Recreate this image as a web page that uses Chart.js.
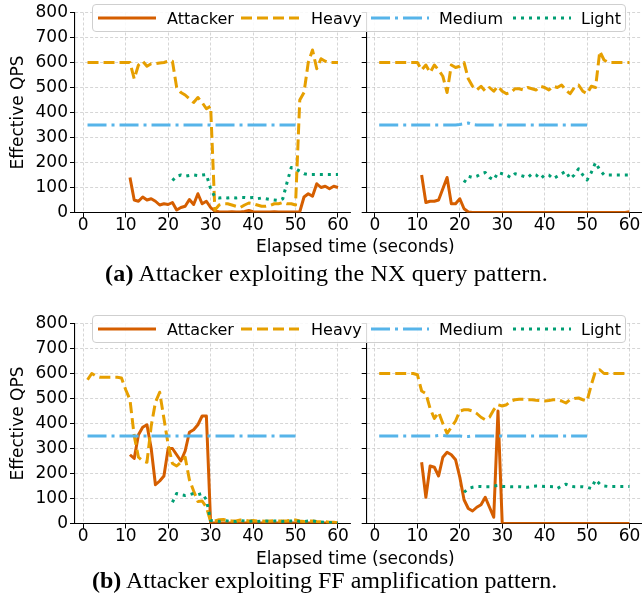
<!DOCTYPE html>
<html>
<head>
<meta charset="utf-8">
<script src="https://cdn.jsdelivr.net/npm/chart.js@4.4.1/dist/chart.umd.min.js"></script>
<style>
html,body{margin:0;padding:0;background:#fff;}
#fig{position:relative;width:642px;height:602px;overflow:hidden;font-family:"DejaVu Sans",sans-serif;color:#000;}
canvas{position:absolute;}
.legend{position:absolute;left:92px;width:534px;height:28px;box-sizing:border-box;border:1px solid #cfcfcf;border-radius:4px;background:rgba(255,255,255,0.85);font-size:16px;}
.legend svg{position:absolute;top:0;}
.legend span{position:absolute;top:4px;line-height:19px;white-space:nowrap;}
.xlab{position:absolute;left:256px;font-size:17px;line-height:17px;white-space:nowrap;}
.cap{position:absolute;font-family:"Liberation Serif","DejaVu Serif",serif;font-size:24px;line-height:24px;white-space:nowrap;}
</style>
</head>
<body>
<div id="fig">
  <canvas id="c1" width="360" height="260" style="left:0;top:0;width:360px;height:260px"></canvas>
  <canvas id="c2" width="287" height="260" style="left:355px;top:0;width:287px;height:260px"></canvas>
  <canvas id="c3" width="360" height="260" style="left:0;top:311px;width:360px;height:260px"></canvas>
  <canvas id="c4" width="287" height="260" style="left:355px;top:311px;width:287px;height:260px"></canvas>
  <div class="legend" id="lg1" style="top:4px"></div>
  <div class="legend" id="lg2" style="top:315px"></div>
  <div class="xlab" style="top:238px">Elapsed time (seconds)</div>
  <div class="xlab" style="top:550px">Elapsed time (seconds)</div>
  <div class="cap" style="left:105px;top:261px;letter-spacing:0.2px"><b>(a)</b> Attacker exploiting the NX query pattern.</div>
  <div class="cap" style="left:92px;top:568px"><b>(b)</b> Attacker exploiting FF amplification pattern.</div>
</div>
<script>
// ---------- data ----------
const seriesNames = ['Attacker', 'Heavy', 'Medium', 'Light'];
const xTicks = [0, 10, 20, 30, 40, 50, 60];
const yTicks = [0, 100, 200, 300, 400, 500, 600, 700, 800];
const attackerStart = 11;
const heavyStart = 1;
const mediumStart = 1;
const lightStart = 21;

// (a) NX query pattern, left panel
const nxLeftAttacker = [140,50,45,62,50,55,45,30,35,32, 40,10,20,25,52,32,75,35,45,20,
  5,3,2,2,3,2,2,4,8,3, 2,2,2,2,3,2,2,2,2,2, 3,62,75,65,115,100,105,95,105,100];
const nxLeftHeavy = [600,600,600,600,600,600,600,600,600,600, 600,535,590,605,585,595,595,598,600,605,
  605,500,480,470,455,440,460,440,415,425, 10,30,35,35,30,25,20,30,38,35,
  30,25,25,28,35,35,40,35,35,30, 450,480,600,650,575,615,605,600,600,600];
const nxLeftMedium = [350,350,350,350,350,350,350,350,350,350, 350,350,350,350,350,350,350,350,350,350,
  350,350,350,350,350,350,350,350,350,350, 350,350,350,350,350,350,350,350,350,350,
  350,350,350,350,350,350,350,350,350,350];
const nxLeftLight = [128,145,150,145,148,150,148,150,152,95, 62,58,60,58,60,58,60,60,58,60,
  55,58,55,52,50,48,55,120,180,175, 165,155,152,152,152,152,152,152,152,152];

// (a) NX query pattern, right panel
const nxRightAttacker = [150,40,45,45,50,95,140,35,35,55, 15,2,0,0,0,0,0,0,0,0,
  0,0,0,0,0,0,0,0,0,0, 0,0,0,0,0,0,0,0,0,0, 0,0,0,0,0,0,0,0,0,3];
const nxRightHeavy = [600,600,600,600,600,600,600,600,600,600, 570,590,560,590,570,545,480,590,580,585,
  600,535,505,490,505,485,500,485,505,485, 475,480,495,495,490,500,495,490,505,500,
  490,505,500,510,490,475,500,510,485,475, 505,500,645,610,600,600,600,600,600,600];
const nxRightMedium = [350,350,350,350,350,350,350,350,350,350, 350,350,350,350,350,350,350,350,350,352,
  355,358,352,350,350,350,350,350,350,350, 350,350,350,350,350,350,350,350,350,350,
  350,350,350,350,350,350,350,350,350,350];
const nxRightLight = [120,145,140,145,155,160,140,130,160,155, 150,140,155,150,145,140,155,150,135,150,
  150,135,145,155,165,135,150,175,150,130, 160,200,170,150,150,150,150,150,150,150];

// (b) FF amplification pattern, left panel
const ffLeftAttacker = [275,260,355,385,395,300,155,170,190,300, 300,275,250,290,365,375,395,430,430,2,
  2,2,2,2,2,2,2,2,2,2, 2,2,2,2,2,2,2,2,2,2, 2,2,2,2,2,2,2,2,2,2];
const ffLeftHeavy = [575,600,590,585,585,585,585,585,582,535, 495,350,265,250,245,390,485,525,420,315,
  240,230,245,265,175,130,88,90,65,8, 10,15,16,12,10,10,14,13,10,12,
  10,10,9,10,11,10,10,11,13,14, 10,8,10,10,8,7,7,5,5,3];
const ffLeftMedium = [350,350,350,350,350,350,350,350,350,350, 350,350,350,350,350,350,350,350,350,350,
  350,350,350,350,350,350,350,350,350,350, 350,350,350,350,350,350,350,350,350,350,
  350,350,350,350,350,350,350,350,350,350];
const ffLeftLight = [85,120,115,112,115,120,115,120,95,12, 10,8,12,10,8,8,12,10,8,10,
  8,10,10,8,10,10,8,10,10,12, 8,8,10,10,8,6,5,4,3,2];

// (b) FF amplification pattern, right panel
const ffRightAttacker = [245,105,230,225,190,265,285,275,255,185, 95,60,50,65,75,105,65,25,450,0,
  0,0,0,0,0,0,0,0,0,0, 0,0,0,0,0,0,0,0,0,0, 0,0,0,0,0,0,0,0,0,0];
const ffRightHeavy = [600,600,600,600,600,600,600,600,600,595, 530,520,460,420,445,400,360,385,410,450,
  455,455,450,440,425,415,425,455,475,470, 475,490,495,497,497,495,495,493,492,490,
  492,495,495,490,482,495,500,502,495,490, 555,610,615,600,600,600,600,600,600,600];
const ffRightMedium = [350,350,350,350,350,350,350,350,350,350, 350,350,350,350,352,352,350,350,350,350,
  348,348,350,350,350,350,350,350,350,350, 350,350,350,350,350,350,350,350,350,350,
  350,350,350,350,350,350,350,350,350,350];
const ffRightLight = [125,140,145,148,148,147,147,150,152,148, 148,147,147,147,146,145,148,150,150,148,
  148,147,140,150,157,150,147,147,147,145, 140,175,158,150,148,148,148,148,148,148];

// ---------- styles ----------
const colors = ['#D55E00', '#E69F00', '#56B4E9', '#009E73'];
const dashes = [[], [11, 5], [19, 5, 3, 5], [3, 5]];
const starts = [attackerStart, heavyStart, mediumStart, lightStart];
const gridColor = 'rgba(160,160,160,0.55)';
const tickFont = {family: 'DejaVu Sans', size: 17};

function toPoints(start, arr) { return arr.map((v, i) => ({x: start + i, y: v})); }

function makeDatasets(arrs) {
  return arrs.map((arr, k) => ({
    label: seriesNames[k],
    data: toPoints(starts[k], arr),
    borderColor: colors[k],
    backgroundColor: colors[k],
    borderDash: dashes[k],
    borderWidth: 3,
    borderCapStyle: 'butt',
    borderJoinStyle: 'round',
    pointRadius: 0,
    tension: 0,
    fill: false,
    order: 4 - k
  }));
}

function buildChart(id, arrs, isLeft) {
  return new Chart(document.getElementById(id), {
    type: 'line',
    data: {datasets: makeDatasets(arrs)},
    options: {
      responsive: false,
      animation: false,
      devicePixelRatio: 1,
      layout: {padding: {left: 0, top: 12.5, right: isLeft ? 9.5 : 0, bottom: 0}},
      plugins: {legend: {display: false}, tooltip: {enabled: false}},
      scales: {
        x: {
          type: 'linear', min: -1.95, max: 62.95,
          afterBuildTicks: s => { s.ticks = xTicks.map(v => ({value: v})); },
          afterFit: s => { s.height = 47.5; s.paddingLeft = 0; s.paddingRight = 0; },
          ticks: {font: tickFont, color: '#000', padding: -2, maxRotation: 0, minRotation: 0, autoSkip: false},
          grid: {color: gridColor, lineWidth: 0.8, drawTicks: true, tickLength: 5, tickColor: '#000', tickWidth: 1, tickBorderDash: []},
          border: {display: true, color: '#000', width: 1.1, dash: [3, 2]}
        },
        y: {
          type: 'linear', min: 0, max: 800,
          afterBuildTicks: s => { s.ticks = yTicks.map(v => ({value: v})); },
          afterFit: s => { s.width = isLeft ? 75 : 11.7; s.paddingTop = 0; s.paddingBottom = 0; },
          ticks: {display: isLeft, font: tickFont, color: '#000', padding: 2},
          title: {display: isLeft, text: 'Effective QPS', font: tickFont, color: '#000', padding: {top: 8, bottom: 0}},
          grid: {color: gridColor, lineWidth: 0.8, drawTicks: true, tickLength: 5, tickColor: '#000', tickWidth: 1, tickBorderDash: []},
          border: {display: true, color: '#000', width: 1.1, dash: [3, 2]}
        }
      }
    }
  });
}

buildChart('c1', [nxLeftAttacker, nxLeftHeavy, nxLeftMedium, nxLeftLight], true);
buildChart('c2', [nxRightAttacker, nxRightHeavy, nxRightMedium, nxRightLight], false);
buildChart('c3', [ffLeftAttacker, ffLeftHeavy, ffLeftMedium, ffLeftLight], true);
buildChart('c4', [ffRightAttacker, ffRightHeavy, ffRightMedium, ffRightLight], false);

// ---------- legends ----------
const handleLeft = [5, 148, 278, 420];
const textLeft = [74, 218, 346, 488];
function buildLegend(id) {
  const box = document.getElementById(id);
  seriesNames.forEach((name, k) => {
    const ns = 'http://www.w3.org/2000/svg';
    const svg = document.createElementNS(ns, 'svg');
    svg.setAttribute('width', '58'); svg.setAttribute('height', '26');
    svg.style.left = handleLeft[k] + 'px';
    const line = document.createElementNS(ns, 'line');
    line.setAttribute('x1', '0'); line.setAttribute('x2', '58');
    line.setAttribute('y1', '13'); line.setAttribute('y2', '13');
    line.setAttribute('stroke', colors[k]); line.setAttribute('stroke-width', '3');
    if (dashes[k].length) line.setAttribute('stroke-dasharray', dashes[k].join(' '));
    svg.appendChild(line);
    box.appendChild(svg);
    const sp = document.createElement('span');
    sp.textContent = name;
    sp.style.left = textLeft[k] + 'px';
    box.appendChild(sp);
  });
}
buildLegend('lg1');
buildLegend('lg2');
</script>
</body>
</html>
